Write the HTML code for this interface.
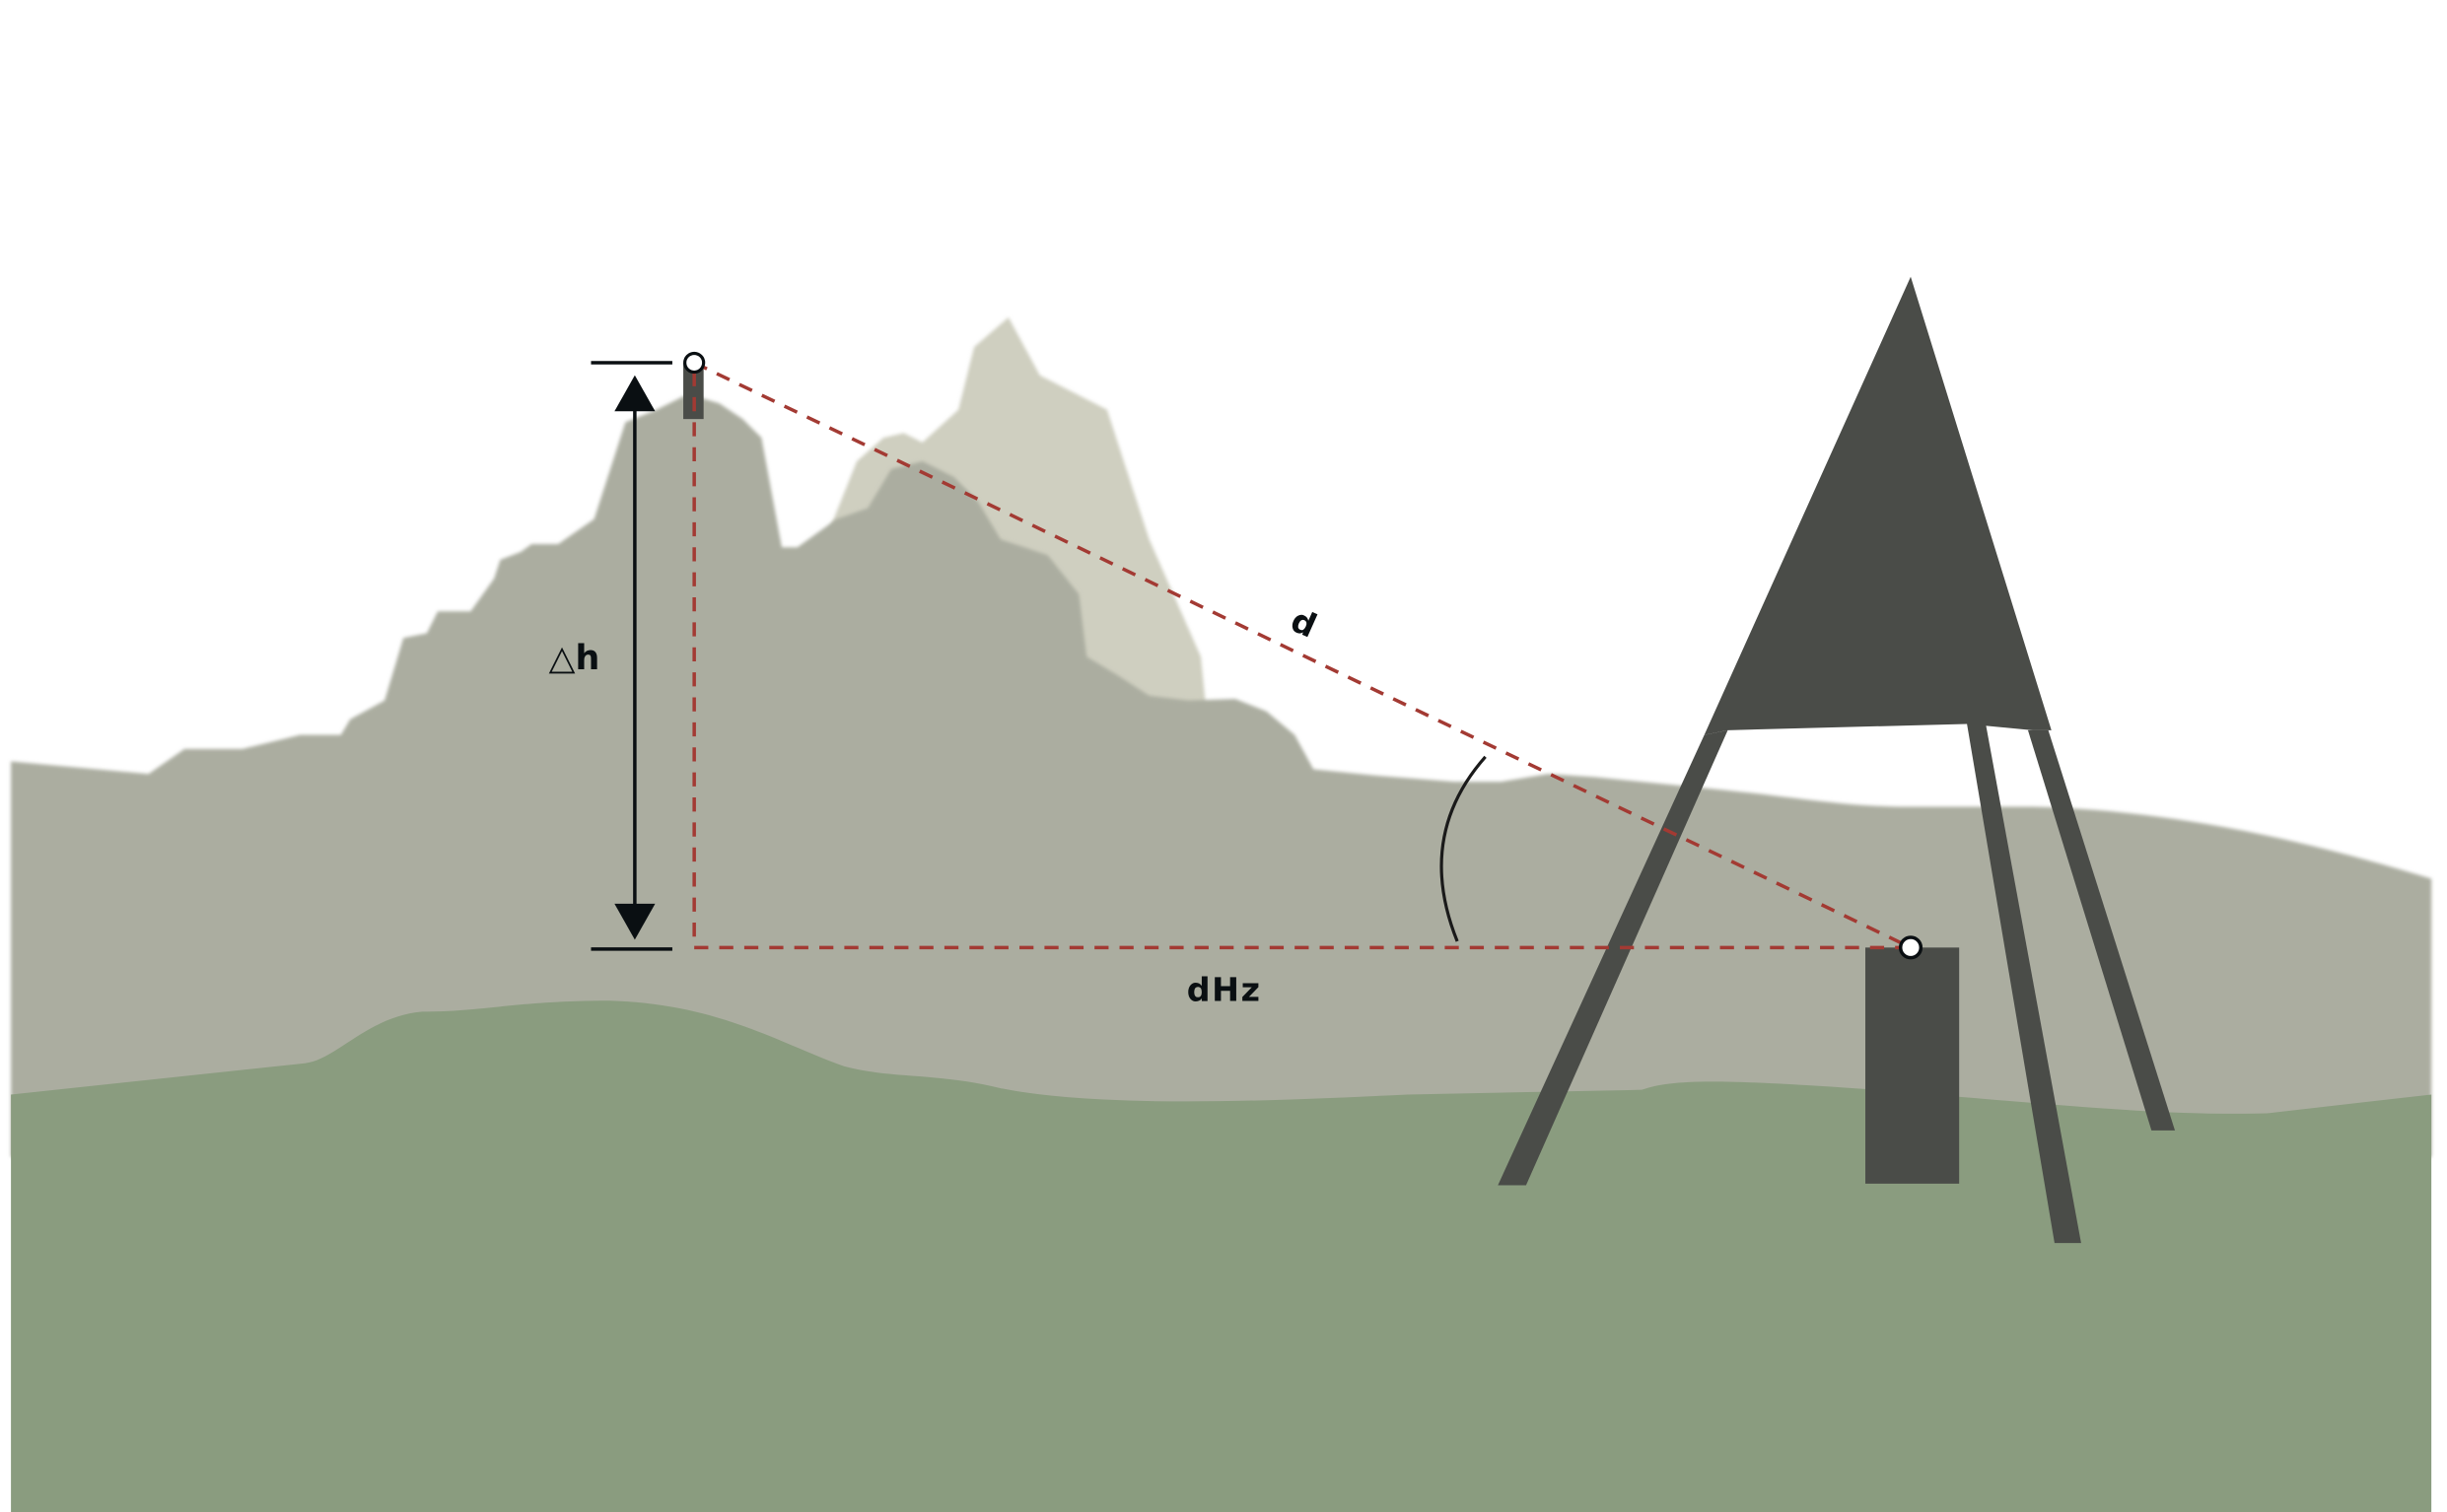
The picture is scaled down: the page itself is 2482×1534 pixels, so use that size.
<!DOCTYPE html>
<html><head><meta charset="utf-8"><style>
html,body{margin:0;padding:0;background:#fff;overflow:hidden}
svg{display:block}
</style></head><body>
<svg width="2482" height="1534" viewBox="0 0 1565 967" preserveAspectRatio="none" xmlns="http://www.w3.org/2000/svg">
<defs><filter id="b" x="-5%" y="-5%" width="110%" height="110%"><feGaussianBlur stdDeviation="1.2"/></filter></defs>
<rect width="1565" height="967" fill="#fff"/>
<polygon fill="#cfcfc0" filter="url(#b)" points="530,340 548,295 565,280 578,277 590,283 613,262 623,222 645,203 665,240 708,262 735,345 768,420 772,460 700,460"/>
<path fill="#abada0" filter="url(#b)" d="M7,487 L95,495 L118,479 L155,479 L192,470 L218,470 L224,460 L246,448 L258,408 L273,405 L280,391 L301,391 L316,370 L320,358 L333,353 L340,348 L357,348 L380,332 L400,270 L420,262 L440,252 L460,258 L475,268 L487,280 L500,350 L510,350 L535,332 L555,325 L570,300 L590,295 L610,305 L625,320 L640,345 L670,355 L690,380 L695,420 L715,432 L735,445 L760,448 L790,447 L810,455 L828,470 L840,492 L880,496 L930,500 L960,500 L990,495 L1020,497 L1100,505 C1150,510 1180,516 1220,516 L1300,516 C1380,518 1460,533 1555,562 L1555,740 L7,740 Z"/>
<path fill="#8a9c7f" d="M7,700 L195,680 C215,678 235,650 270,647 C310,647 330,640 390,640 C460,642 500,668 540,682 C570,690 600,686 640,696 C700,708 800,705 900,700 L1050,697 C1070,690 1100,690 1200,697 C1300,705 1380,714 1450,712 L1555,700 L1555,967 L7,967 Z"/>
<polygon fill="#4a4c48" points="1222,177 1312,467 1300,467 1258,463 1105,467 1090,470"/>
<polygon fill="#4a4c48" points="1090,470 1105,467 976,758 958,758"/>
<polygon fill="#4a4c48" points="1258,463 1270,463 1331,795 1314,795"/>
<polygon fill="#4a4c48" points="1297,467 1310,467 1391,723 1376,723"/>
<rect x="1193" y="606" width="60" height="151" fill="#4a4c48"/>
<rect x="437" y="232" width="13" height="36" fill="#4a4c48"/>
<g stroke="#a33a33" stroke-width="2.2" stroke-dasharray="9,7" fill="none">
<line x1="444" y1="232" x2="1222" y2="606"/>
<line x1="444" y1="238" x2="444" y2="606"/>
<line x1="444" y1="606" x2="1222" y2="606"/>
</g>
<g stroke="#0a0f12" stroke-width="2.2">
<line x1="378" y1="232" x2="430" y2="232"/>
<line x1="378" y1="607" x2="430" y2="607"/>
<line x1="406" y1="258" x2="406" y2="584"/>
</g>
<polygon fill="#0a0f12" points="406,240 393,263 419,263"/>
<polygon fill="#0a0f12" points="406,601 393,578 419,578"/>
<path d="M950,484 Q905,535 932,602" stroke="#1a1a1a" stroke-width="2" fill="none"/>
<circle cx="444" cy="232" r="6" fill="#fff" stroke="#0a0f12" stroke-width="2"/>
<circle cx="1222" cy="606" r="6.5" fill="#fff" stroke="#0a0f12" stroke-width="2.2"/>
<text x="351" y="428" font-family="DejaVu Sans, Liberation Sans, sans-serif" font-size="22" font-weight="bold" fill="#0a0f12">△h</text>
<text x="759" y="640" font-family="DejaVu Sans, Liberation Sans, sans-serif" font-size="21" font-weight="bold" fill="#0a0f12" letter-spacing="1">dHz</text>
<text x="0" y="0" transform="translate(824,402) rotate(24)" font-family="DejaVu Sans, Liberation Sans, sans-serif" font-size="21" font-weight="bold" fill="#0a0f12">d</text>
</svg>
</body></html>
